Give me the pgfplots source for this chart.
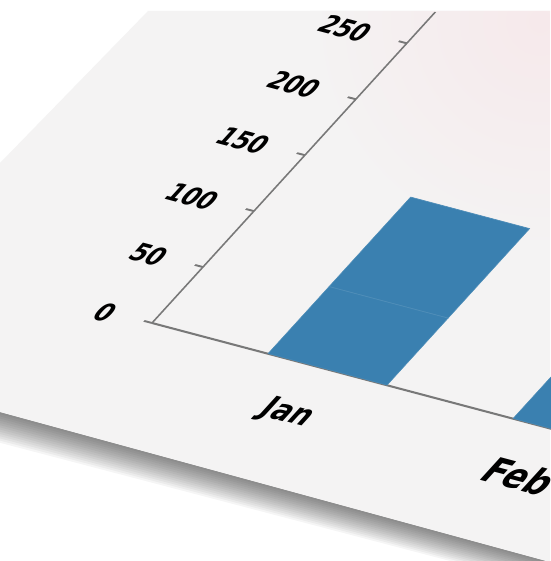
\documentclass[border=0pt]{standalone}
\usepackage{fontspec}
\setmainfont{DejaVu Sans}
\usepackage{pgfplots}
\pgfplotsset{compat=1.18}
\definecolor{paper}{RGB}{244,243,243}
\definecolor{pinkish}{RGB}{246,233,235}
\definecolor{barblue}{RGB}{58,128,176}
\definecolor{axisgray}{RGB}{120,120,120}
\begin{document}
\begin{tikzpicture}[x=1pt,y=1pt]
\useasboundingbox (0,0) rectangle (550,561);
\fill[white] (0,0) rectangle (550,561);
\foreach \i in {1,...,14} {
  \fill[black, opacity=0.04] (0,149) -- (550,-1) -- (550,-1-1.8*\i) -- (0,149-2.2*\i) -- cycle;
}
\fill[paper] (148,550) -- (550,550) -- (550,-1) -- (0,149) -- (0,398) -- cycle;
\begin{scope}
\clip (148,550) -- (550,550) -- (550,-1) -- (0,149) -- (0,398) -- cycle;
\shade[inner color=pinkish, outer color=paper] (540,540) circle (230);
\end{scope}
\begin{scope}[transform canvas={cm={1,-0.265,0.911,1,(152pt,238pt)}}]
\begin{axis}[
  at={(0,0)}, anchor=south west, scale only axis,
  width=788pt, height=311pt,
  xmin=-0.716, xmax=2.5, ymin=0, ymax=278,
  axis lines*=left,
  axis line style={axisgray, line width=1.7pt},
  ytick={0,50,100,150,200,250},
  xtick={0}, xticklabels={Jan},
  extra x ticks={1}, extra x tick labels={Feb},
  extra x tick style={xticklabel style={font=\fontsize{31}{36}\selectfont\bfseries, xshift=-12pt, yshift=-1pt}},
  tick align=outside, major tick length=8pt,
  y tick style={axisgray, line width=1.6pt},
  x tick style={draw=none},
  /pgf/number format/assume math mode=true,
  yticklabel style={font=\fontsize{22}{26}\selectfont\bfseries, anchor=east, inner sep=0pt, xshift=-29pt, yshift=-1.5pt},
  xticklabel style={font=\fontsize{26}{30}\selectfont\bfseries, anchor=north, inner sep=0pt, yshift=-24pt},
  ybar stacked, bar width=119pt,
]
\addplot[fill=barblue, draw=barblue!90!white, line width=0.6pt] coordinates {(0,60) (1,60)};
\addplot[fill=barblue, draw=barblue!90!white, line width=0.6pt] coordinates {(0,80) (1,110)};
\end{axis}
\end{scope}
\end{tikzpicture}
\end{document}
